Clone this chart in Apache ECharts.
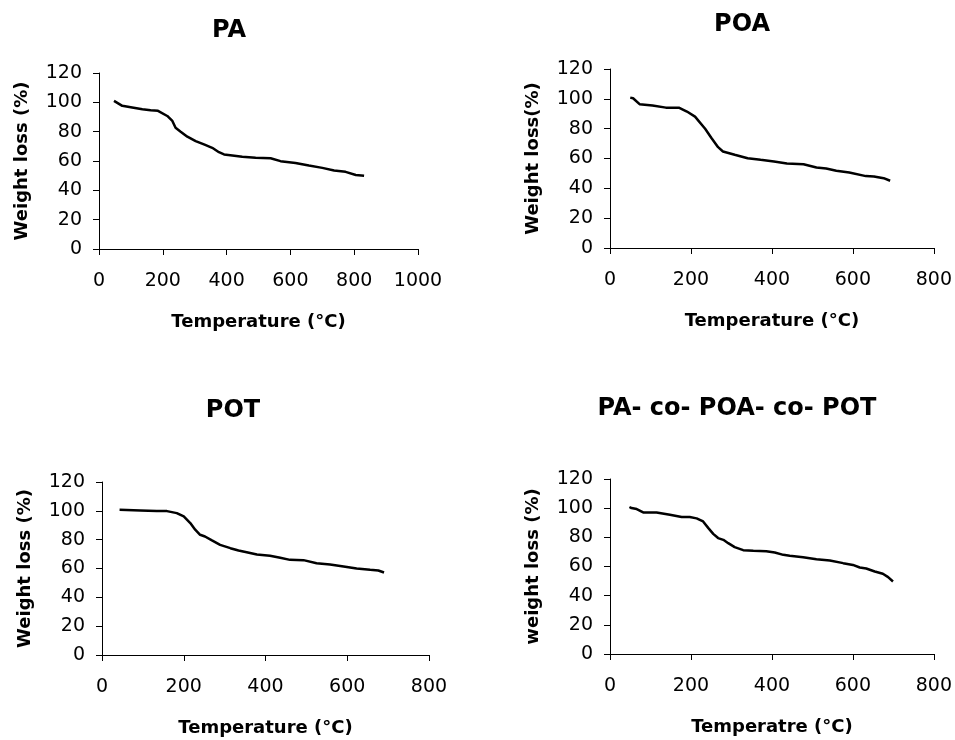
<!DOCTYPE html>
<html>
<head>
<meta charset="utf-8">
<script src="https://cdn.jsdelivr.net/npm/echarts@6/dist/echarts.min.js"></script>
<style>
  body { margin: 0; padding: 0; background: #fff; }
  #chart { width: 955px; height: 740px; }
</style>
</head>
<body>
<div id="chart"></div>
<script>
// TGA curves, [temperature °C, weight %]
const paData = [
  [47, 101], [73, 97.6], [104, 96.5], [136, 95.3], [162, 94.6], [185, 94.2],
  [214, 90.7], [230, 87.3], [240, 82.7], [256, 80], [277, 76.6], [303, 73.6],
  [329, 71.3], [355, 69], [376, 66], [392, 64.5], [418, 63.8], [449, 62.9],
  [491, 62.2], [538, 61.9], [569, 59.9], [616, 58.7], [658, 56.9], [700, 55.3],
  [737, 53.5], [773, 52.6], [805, 50.5], [831, 50]
];
const poaData = [
  [50, 100.8], [57, 100.4], [73, 96.4], [105, 95.5], [138, 94.1], [170, 94.1],
  [190, 91.5], [210, 88.1], [235, 79.9], [251, 73.6], [267, 67.6], [279, 64.7],
  [308, 62.5], [340, 60.2], [372, 59.1], [405, 58], [437, 56.7], [478, 56.2],
  [510, 54], [534, 53.3], [559, 51.8], [591, 50.6], [632, 48.2], [652, 48],
  [676, 46.8], [692, 45.1]
];
const potData = [
  [43, 100.8], [45, 100.3], [94, 100.3], [134, 99.8], [159, 99.8], [183, 98.4],
  [200, 96.1], [216, 91.5], [228, 86.9], [240, 83.4], [252, 82.2], [269, 79.5],
  [289, 76.4], [314, 74.1], [334, 72.5], [354, 71.3], [379, 69.7], [411, 68.8],
  [436, 67.4], [460, 66], [493, 65.8], [525, 63.7], [558, 62.8], [591, 61.4],
  [623, 60], [656, 59.1], [676, 58.6], [690, 57.2]
];
const coData = [
  [48, 100.8], [53, 100.1], [66, 99.4], [82, 97.1], [115, 97.1], [148, 95.5],
  [177, 93.9], [197, 93.9], [214, 93], [230, 90.9], [243, 86.3], [255, 82.4],
  [267, 79.5], [280, 78.3], [292, 76], [308, 73.3], [329, 71.2], [354, 70.8],
  [386, 70.5], [407, 69.6], [428, 68], [444, 67.3], [477, 66.4], [510, 65],
  [543, 64.1], [576, 62.3], [600, 61.1], [617, 59.3], [633, 58.6], [654, 56.6],
  [674, 55], [687, 52.7], [699, 49.7]
];

const titles = ['PA', 'POA', 'POT', 'PA- co- POA- co- POT'];
const yNames = ['Weight loss (%)', 'Weight loss(%)', 'Weight loss (%)', 'weight loss (%)'];
const xNames = ['Temperature (°C)', 'Temperature (°C)', 'Temperature (°C)', 'Temperatre (°C)'];
const xMaxes = [1000, 800, 800, 800];
const curves = [paData, poaData, potData, coData];

const font = '"DejaVu Sans", sans-serif';
const grids = [
  { left: 99, top: 73, width: 319, height: 176 },
  { left: 610, top: 69, width: 329, height: 179 },
  { left: 102, top: 482, width: 327, height: 173 },
  { left: 610, top: 479, width: 324, height: 175 }
];
const titlePos = [[224, 14], [737, 8], [228, 394], [732, 392]];

const axisCommon = {
  axisLine: { show: true, lineStyle: { color: '#000', width: 1 } },
  axisTick: { show: true, inside: false, length: 6, lineStyle: { color: '#000' } },
  splitLine: { show: false },
  nameTextStyle: { color: '#000', fontSize: 18, fontWeight: 'bold', fontFamily: font }
};
const labelStyle = { color: '#000', fontSize: 19, fontFamily: font, formatter: v => String(v) };

const option = {
  backgroundColor: '#fff',
  animation: false,
  title: titles.map((t, i) => ({
    text: t,
    left: titlePos[i][0],
    top: titlePos[i][1],
    textAlign: 'center',
    textStyle: { color: '#000', fontSize: 24, fontWeight: 'bold', fontFamily: font }
  })),
  grid: grids,
  xAxis: grids.map((g, i) => Object.assign({}, axisCommon, {
    type: 'value',
    gridIndex: i,
    min: 0,
    max: xMaxes[i],
    interval: 200,
    name: xNames[i],
    nameLocation: 'middle',
    nameGap: 64,
    axisLabel: Object.assign({}, labelStyle, { margin: 23 })
  })),
  yAxis: grids.map((g, i) => Object.assign({}, axisCommon, {
    type: 'value',
    gridIndex: i,
    min: 0,
    max: 120,
    interval: 20,
    name: yNames[i],
    nameLocation: 'middle',
    nameGap: 68,
    axisLabel: Object.assign({}, labelStyle, { margin: 17 })
  })),
  series: curves.map((d, i) => ({
    type: 'line',
    xAxisIndex: i,
    yAxisIndex: i,
    data: d,
    showSymbol: false,
    lineStyle: { color: '#000', width: 2.5 }
  }))
};

const chart = echarts.init(document.getElementById('chart'));
chart.setOption(option);
</script>
</body>
</html>
